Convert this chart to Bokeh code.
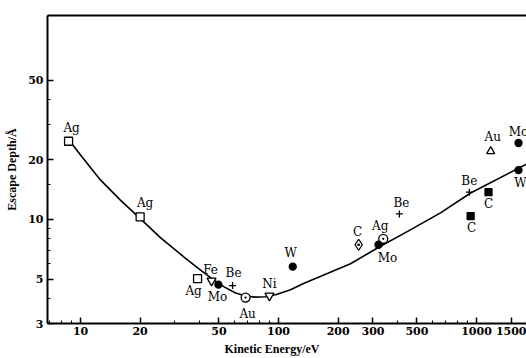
from bokeh.plotting import figure
from bokeh.models import (FixedTicker, PrintfTickFormatter, LogAxis,
                          ColumnDataSource, Range1d)
from bokeh.core.properties import value
from bokeh.embed import file_html
from bokeh.resources import INLINE

# ---- data ----
x_ticks = [10, 20, 50, 100, 200, 300, 500, 1000, 1500]
x_minor = [7, 8, 9, 30, 40, 60, 70, 80, 90, 400, 600, 700, 800, 900]
y_ticks = [3, 5, 10, 20, 50]
y_minor = [4, 6, 7, 8, 9, 15, 30, 40]

elements = ["Ag", "Ag", "Ag", "Fe", "Mo", "Be", "Au", "Ni", "W", "C",
            "Ag", "Mo", "Be", "C", "Be", "C", "W", "Au", "Mo"]
energy = [8.7, 20, 39, 45.9, 49.7, 58.6, 68.2, 90, 118, 254,
          338, 320, 408, 934, 920, 1150, 1630, 1180, 1630]
depth = [24.7, 10.3, 5.04, 4.92, 4.70, 4.65, 4.05, 4.14, 5.79, 7.46,
         7.99, 7.46, 10.66, 10.4, 13.7, 13.7, 17.7, 22.0, 24.2]
symbols = ["sq", "sq", "sq", "tri_dn", "dot", "plus", "circ", "tri_dn", "dot", "diam",
           "circ", "dot", "plus", "sq_f", "plus", "sq_f", "dot", "tri_up", "dot"]

curve_energy = [8.9, 10.0, 12.6, 15.9, 19.6, 25.4, 33.9, 40.4, 46.4, 53.4,
                60.7, 68.1, 76.5, 86.0, 96.6, 115.0, 133.7, 172.8, 231,
                324, 449, 658, 934, 1789]
curve_depth = [24.5, 21.05, 15.8, 12.5, 10.3, 8.08, 6.38, 5.56, 5.01, 4.57,
               4.27, 4.12, 4.07, 4.09, 4.18, 4.43, 4.77, 5.31, 5.99,
               7.29, 8.71, 10.79, 13.58, 18.97]

# ---- styles / layout ----
style = {
    "sq": ("square", 8, "white"),
    "sq_f": ("square", 7, "black"),
    "tri_dn": ("inverted_triangle", 9, "white"),
    "tri_up": ("triangle", 8, "white"),
    "dot": ("circle", 7, "black"),
    "plus": ("cross", 7, "black"),
    "circ": ("circle_dot", 9, "white"),
    "diam": ("diamond_dot", 11, "white"),
}
label_dx = [3, 5, -4, -1, -1, 1, 2, 0, -2, -1, -3, 9, 2, 1, 0, 0, 2, 2, 0]
label_dy = [-13, -14, 12, -11, 12, -13, 16, -12, -14, -13, -13, 13, -11, 12, -11, 12, 13, -14, -11]

src = ColumnDataSource(dict(
    x=energy, y=depth, name=elements,
    marker=[style[s][0] for s in symbols],
    size=[style[s][1] for s in symbols],
    fill=[style[s][2] for s in symbols],
    dx=label_dx, dy=label_dy,
))

p = figure(width=526, height=358, x_axis_type="log", y_axis_type="log",
           x_range=Range1d(6.81, 1789), y_range=Range1d(3, 105.8),
           output_backend="svg", toolbar_location=None,
           min_border_left=47, min_border_top=15, min_border_bottom=34,
           min_border_right=0)
p.outline_line_color = None
p.grid.visible = False
p.background_fill_color = "white"
p.border_fill_color = "white"

xa = p.xaxis[0]
xa.ticker = FixedTicker(ticks=x_ticks, minor_ticks=x_minor)
xa.formatter = PrintfTickFormatter(format="%d")
ya = p.yaxis[0]
ya.ticker = FixedTicker(ticks=y_ticks, minor_ticks=y_minor)
ya.formatter = PrintfTickFormatter(format="%d")

for ax in (xa, ya):
    ax.axis_line_width = 2
    ax.axis_line_color = "black"
    ax.major_tick_in = 6
    ax.major_tick_out = 0
    ax.minor_tick_in = 3
    ax.minor_tick_out = 0
    ax.major_tick_line_width = 1.5
    ax.minor_tick_line_width = 1
    ax.major_tick_line_color = "black"
    ax.minor_tick_line_color = "black"
    ax.major_label_text_font = "DejaVu Serif"
    ax.major_label_text_font_style = "bold"
    ax.major_label_text_font_size = "11px"
    ax.major_label_text_color = "black"
    ax.axis_label_text_font = "Liberation Serif"
    ax.axis_label_text_font_style = "bold"
    ax.axis_label_text_font_size = "12px"
    ax.axis_label_text_color = "black"

xa.major_label_standoff = 3
ya.major_label_standoff = 4

ya.axis_label = "Escape Depth/Å"
ya.axis_label_standoff = 6
xa.axis_label = "Kinetic Energy/eV" + "\u00a0" * 10
xa.axis_label_standoff = 4

top = LogAxis(ticker=FixedTicker(ticks=[]), major_label_text_font_size="0px",
              axis_line_width=2, axis_line_color="black",
              major_tick_in=0, major_tick_out=0, minor_tick_in=0, minor_tick_out=0)
p.add_layout(top, "above")

p.line(curve_energy, curve_depth, line_color="black", line_width=1.6)

p.scatter(x="x", y="y", marker="marker", size="size", fill_color="fill",
          line_color="black", line_width=1.3, source=src)

p.text(x="x", y="y", text="name", x_offset="dx", y_offset="dy", source=src,
       text_font=value("DejaVu Serif"), text_font_size="12px",
       text_color="black", text_align="center", text_baseline="middle")

open("out.html", "w").write(file_html(p, INLINE))
